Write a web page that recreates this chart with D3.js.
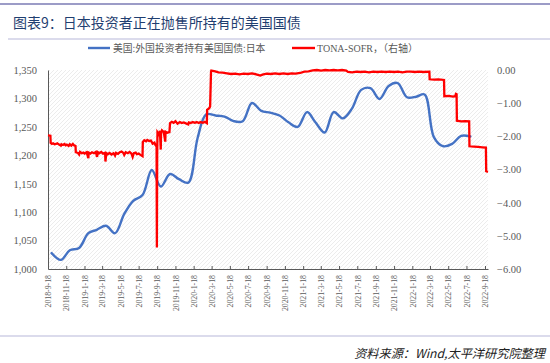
<!DOCTYPE html>
<html><head><meta charset="utf-8">
<script src="https://cdn.jsdelivr.net/npm/d3@7"></script>
<style>
html,body{margin:0;padding:0;background:#fff;}
svg{display:block;}
</style></head>
<body>
<svg id="c" width="550" height="363"></svg>
<script>
// ---------- DATA ----------
const titleText = "图表9：日本投资者正在抛售所持有的美国国债";
const sourceText = "资料来源：Wind,太平洋研究院整理";
const seriesNames = ["美国:外国投资者持有美国国债:日本", "TONA-SOFR，（右轴）"];

const xTickLabels = ["2018-9-18","2018-11-18","2019-1-18","2019-3-18","2019-5-18","2019-7-18","2019-9-18","2019-11-18",
  "2020-1-18","2020-3-18","2020-5-18","2020-7-18","2020-9-18","2020-11-18","2021-1-18","2021-3-18","2021-5-18",
  "2021-7-18","2021-9-18","2021-11-18","2022-1-18","2022-3-18","2022-5-18","2022-7-18","2022-9-18"];
const leftTicks = [1000,1050,1100,1150,1200,1250,1300,1350];
const rightTicks = [0,-1,-2,-3,-4,-5,-6];

// Japan holdings of US Treasuries (monthly, billion USD)
const japanMonths = ["2018-09-30","2018-10-31","2018-11-30","2018-12-31","2019-01-31","2019-02-28","2019-03-31","2019-04-30",
  "2019-05-31","2019-06-30","2019-07-31","2019-08-31","2019-09-30","2019-10-31","2019-11-30","2019-12-31",
  "2020-01-31","2020-02-29","2020-03-31","2020-04-30","2020-05-31","2020-06-30","2020-07-31","2020-08-31",
  "2020-09-30","2020-10-31","2020-11-30","2020-12-31","2021-01-31","2021-02-28","2021-03-31","2021-04-30",
  "2021-05-31","2021-06-30","2021-07-31","2021-08-31","2021-09-30","2021-10-31","2021-11-30","2021-12-31",
  "2022-01-31","2022-02-28","2022-03-31","2022-04-30","2022-05-31","2022-06-30","2022-07-31"];
const japanValues = [1028,1016,1033,1037,1063,1069,1076,1063,
  1097,1120,1130,1174,1145,1167,1158,1152,
  1230,1272,1270,1268,1260,1260,1292,1278,
  1275,1270,1258,1250,1276,1258,1240,1276,
  1265,1282,1315,1318,1299,1322,1327,1302,
  1303,1307,1232,1216,1220,1234,1233];

const spreadObs = [
  ["2018-09-18",-1.97],["2018-09-26",-1.98],["2018-09-27",-2.20],["2018-10-01",-2.23],["2018-10-05",-2.21],
  ["2018-10-10",-2.24],["2018-10-15",-2.23],["2018-10-19",-2.21],["2018-10-25",-2.25],["2018-10-31",-2.28],
  ["2018-11-02",-2.24],["2018-11-07",-2.26],["2018-11-12",-2.23],["2018-11-16",-2.27],["2018-11-20",-2.25],
  ["2018-11-26",-2.29],["2018-11-30",-2.24],["2018-12-05",-2.28],["2018-12-10",-2.23],["2018-12-14",-2.27],
  ["2018-12-19",-2.29],["2018-12-20",-2.48],["2018-12-27",-2.50],["2018-12-31",-2.55],["2019-01-03",-2.47],
  ["2019-01-09",-2.51],["2019-01-14",-2.49],["2019-01-18",-2.52],["2019-01-25",-2.48],["2019-01-31",-2.66],
  ["2019-02-01",-2.49],["2019-02-07",-2.52],["2019-02-12",-2.48],["2019-02-19",-2.51],["2019-02-25",-2.47],
  ["2019-03-01",-2.62],["2019-03-04",-2.48],["2019-03-08",-2.51],["2019-03-15",-2.47],["2019-03-21",-2.52],
  ["2019-03-28",-2.50],["2019-03-29",-2.76],["2019-04-01",-2.51],["2019-04-05",-2.54],["2019-04-12",-2.50],
  ["2019-04-18",-2.55],["2019-04-25",-2.51],["2019-04-30",-2.58],["2019-05-03",-2.50],["2019-05-10",-2.53],
  ["2019-05-16",-2.48],["2019-05-22",-2.46],["2019-05-28",-2.50],["2019-05-31",-2.56],["2019-06-05",-2.48],
  ["2019-06-12",-2.51],["2019-06-18",-2.47],["2019-06-24",-2.52],["2019-06-28",-2.62],["2019-07-02",-2.51],
  ["2019-07-08",-2.49],["2019-07-12",-2.54],["2019-07-18",-2.52],["2019-07-24",-2.56],["2019-07-31",-2.60],
  ["2019-08-01",-2.17],["2019-08-06",-2.12],["2019-08-12",-2.15],["2019-08-16",-2.11],["2019-08-22",-2.14],
  ["2019-08-28",-2.13],["2019-09-03",-2.22],["2019-09-09",-2.19],["2019-09-12",-2.26],["2019-09-16",-2.31],
  ["2019-09-17",-5.35],["2019-09-18",-2.60],["2019-09-19",-1.88],["2019-09-24",-1.95],["2019-09-27",-1.83],
  ["2019-09-30",-2.40],["2019-10-01",-1.90],["2019-10-04",-1.82],["2019-10-10",-1.87],["2019-10-15",-2.16],
  ["2019-10-16",-1.86],["2019-10-22",-1.89],["2019-10-29",-1.87],["2019-10-31",-1.60],["2019-11-06",-1.56],
  ["2019-11-12",-1.59],["2019-11-18",-1.54],["2019-11-25",-1.62],["2019-12-03",-1.57],["2019-12-09",-1.60],
  ["2019-12-16",-1.58],["2019-12-23",-1.61],["2019-12-31",-1.64],["2020-01-02",-1.58],["2020-01-08",-1.60],
  ["2020-01-15",-1.57],["2020-01-22",-1.59],["2020-01-28",-1.57],["2020-02-04",-1.60],["2020-02-10",-1.57],
  ["2020-02-18",-1.59],["2020-02-24",-1.56],["2020-03-02",-1.60],["2020-03-03",-1.20],["2020-03-10",-1.15],
  ["2020-03-13",-1.10],["2020-03-16",-0.05],["2020-03-17",-0.02],["2020-03-30",-0.04],["2020-04-10",-0.07],
  ["2020-04-24",-0.08],["2020-05-08",-0.10],["2020-05-22",-0.12],["2020-06-05",-0.11],["2020-06-19",-0.13],
  ["2020-07-03",-0.11],["2020-07-17",-0.12],["2020-07-31",-0.10],["2020-08-14",-0.13],["2020-08-28",-0.17],
  ["2020-09-04",-0.14],["2020-09-18",-0.11],["2020-10-02",-0.12],["2020-10-16",-0.10],["2020-10-30",-0.12],
  ["2020-11-13",-0.10],["2020-11-27",-0.12],["2020-12-11",-0.10],["2020-12-24",-0.11],["2021-01-08",-0.09],
  ["2021-01-22",-0.05],["2021-02-05",-0.04],["2021-02-19",-0.01],["2021-03-05",0.00],["2021-03-19",-0.02],
  ["2021-04-02",0.00],["2021-04-16",-0.01],["2021-04-30",0.00],["2021-05-14",-0.01],["2021-05-28",0.00],
  ["2021-06-11",-0.02],["2021-06-17",-0.06],["2021-07-01",-0.07],["2021-07-15",-0.05],["2021-07-29",-0.06],
  ["2021-08-12",-0.05],["2021-08-26",-0.07],["2021-09-09",-0.05],["2021-09-23",-0.06],["2021-10-07",-0.05],
  ["2021-10-21",-0.06],["2021-11-04",-0.05],["2021-11-18",-0.06],["2021-12-02",-0.05],["2021-12-16",-0.07],
  ["2021-12-30",-0.05],["2022-01-13",-0.05],["2022-01-27",-0.06],["2022-02-10",-0.05],["2022-02-24",-0.06],
  ["2022-03-16",-0.05],["2022-03-17",-0.28],["2022-04-01",-0.29],["2022-04-15",-0.28],["2022-05-04",-0.30],
  ["2022-05-05",-0.79],["2022-05-20",-0.78],["2022-06-03",-0.80],["2022-06-10",-0.79],["2022-06-13",-0.72],
  ["2022-06-15",-0.73],["2022-06-16",-1.53],["2022-06-30",-1.55],["2022-07-14",-1.54],["2022-07-27",-1.55],
  ["2022-07-28",-2.30],["2022-08-12",-2.31],["2022-08-26",-2.32],["2022-09-09",-2.33],["2022-09-21",-2.34],
  ["2022-09-22",-3.05],["2022-09-28",-3.07]
];

// ---------- CHART ----------
const parse = d3.timeParse("%Y-%m-%d");
const parseTick = d3.timeParse("%Y-%-m-%-d");
const svg = d3.select("#c");
const plot = {left:48, right:488, top:70, bottom:269};

const x = d3.scaleTime().domain([parse("2018-09-18"), parse("2022-09-28")]).range([plot.left, plot.right]);
const yL = d3.scaleLinear().domain([1000,1350]).range([plot.bottom, plot.top]);
const yR = d3.scaleLinear().domain([-6,0]).range([plot.bottom, plot.top]);

// decorations
svg.append("line").attr("x1",0).attr("x2",550).attr("y1",4).attr("y2",4).attr("stroke","#7b7bb5").attr("stroke-width",1.6);
svg.append("line").attr("x1",8).attr("x2",550).attr("y1",39).attr("y2",39).attr("stroke","#a5a5cf").attr("stroke-width",0.8);
svg.append("line").attr("x1",0).attr("x2",550).attr("y1",336).attr("y2",336).attr("stroke","#a5a5cf").attr("stroke-width",0.8);

svg.append("text").attr("x",13).attr("y",28).attr("fill","#1f3e70")
  .attr("font-family","'Noto Sans CJK SC', sans-serif").attr("font-size",14).text(titleText);

svg.append("text").attr("x",545).attr("y",358).attr("text-anchor","end").attr("fill","#222")
  .attr("font-family","'Noto Sans CJK SC', sans-serif").attr("font-style","italic").attr("font-size",12.2).text(sourceText);

// hatch pattern
const defs = svg.append("defs");
const pat = defs.append("pattern").attr("id","hatch").attr("patternUnits","userSpaceOnUse").attr("width",4).attr("height",4);
pat.append("path").attr("d","M-1,1 l2,-2 M0,4 l4,-4 M3,5 l2,-2").attr("stroke","#e4e4e4").attr("stroke-width",0.7);
svg.append("rect").attr("x",plot.left).attr("y",plot.top).attr("width",plot.right-plot.left).attr("height",plot.bottom-plot.top).attr("fill","url(#hatch)");

const fontNum = "'Liberation Serif', 'Times New Roman', serif";
// left axis
const gL = svg.append("g").attr("transform",`translate(${plot.left},0)`)
  .call(d3.axisLeft(yL).tickValues(leftTicks).tickFormat(d3.format(",")).tickSize(0).tickPadding(11));
gL.select(".domain").attr("stroke","#595959").attr("stroke-width",1);
gL.selectAll("text").attr("fill","#595959").attr("font-family",fontNum).attr("font-size",10.5);

// right axis
const gR = svg.append("g").attr("transform",`translate(${plot.right},0)`)
  .call(d3.axisRight(yR).tickValues(rightTicks).tickFormat(d3.format(".2f")).tickSize(0).tickPadding(9));
gR.select(".domain").remove();
gR.selectAll("text").attr("fill","#595959").attr("font-family",fontNum).attr("font-size",10.5);

// x axis
const xTicks = xTickLabels.map(parseTick);
const gX = svg.append("g").attr("transform",`translate(0,${plot.bottom})`)
  .call(d3.axisBottom(x).tickValues(xTicks).tickFormat((d,i)=>xTickLabels[i]).tickSizeInner(-3).tickSizeOuter(0).tickPadding(6));
gX.select(".domain").attr("stroke","#595959").attr("stroke-width",1.2);
gX.selectAll(".tick line").attr("stroke","#595959");
gX.selectAll("text").attr("fill","#595959").attr("font-family",fontNum).attr("font-size",7.8)
  .attr("text-anchor","end").attr("transform","rotate(-90)").attr("x",-6).attr("y",0).attr("dy","0.35em");

// lines
const japan = japanMonths.map((d,i)=>({date:parse(d), v:japanValues[i]}));
const spread = spreadObs.map(([d,v])=>({date:parse(d), v}));

svg.append("path").datum(japan).attr("fill","none").attr("stroke","#4472c4").attr("stroke-width",2.4)
  .attr("stroke-linejoin","round").attr("stroke-linecap","round")
  .attr("d", d3.line().x(d=>x(d.date)).y(d=>yL(d.v)).curve(d3.curveCatmullRom.alpha(0.5)));

svg.append("path").datum(spread).attr("fill","none").attr("stroke","#ff0000").attr("stroke-width",2.3)
  .attr("stroke-linejoin","miter")
  .attr("d", d3.line().x(d=>x(d.date)).y(d=>yR(d.v)));

// legend
const leg = svg.append("g");
leg.append("line").attr("x1",88).attr("x2",110).attr("y1",48).attr("y2",48).attr("stroke","#4472c4").attr("stroke-width",2.4);
leg.append("text").attr("x",113).attr("y",51.5).attr("fill","#595959").attr("font-size",9.8)
  .attr("font-family","'Noto Sans CJK SC', sans-serif").text(seriesNames[0]);
leg.append("line").attr("x1",292).attr("x2",315).attr("y1",48).attr("y2",48).attr("stroke","#ff0000").attr("stroke-width",2.4);
leg.append("text").attr("x",317).attr("y",51.5).attr("fill","#595959").attr("font-size",10)
  .attr("font-family","'Liberation Serif', 'Noto Sans CJK SC', serif").text(seriesNames[1]);
</script>
</body></html>
